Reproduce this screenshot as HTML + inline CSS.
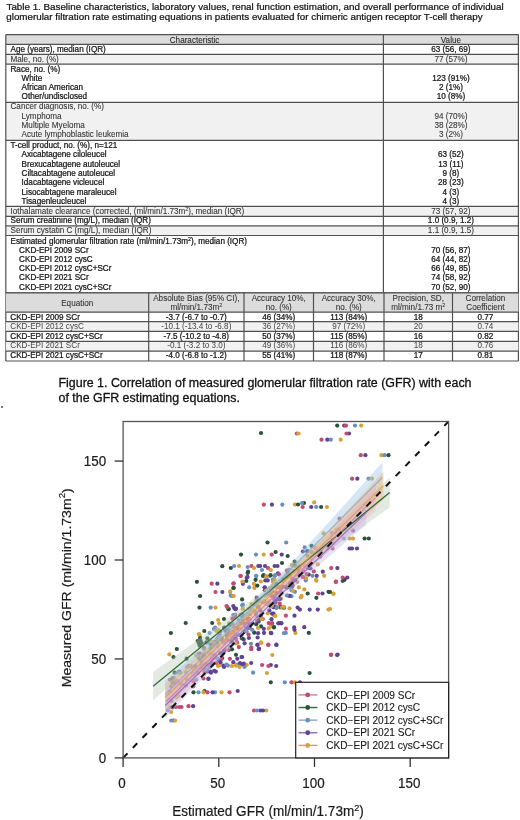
<!DOCTYPE html><html><head><meta charset="utf-8"><style>html,body{margin:0;padding:0;background:#fff;width:520px;height:820px;overflow:hidden}svg{display:block;will-change:transform}text{font-family:"Liberation Sans",sans-serif}.b{stroke:#141414;stroke-width:0.24px}.t{stroke:#111;stroke-width:0.22px}.c{stroke:#111;stroke-width:0.3px}.r{stroke:#333;stroke-width:0.08px}.pt{stroke:#1a1a1a;stroke-width:0.2px}.pl{stroke:#1a1a1a;stroke-width:0.12px}</style></head><body>
<svg width="520" height="820" viewBox="0 0 520 820">
<text x="6.5" y="9.8" font-size="9.8" fill="#111" class="t">Table 1. Baseline characteristics, laboratory values, renal function estimation, and overall performance of individual</text>
<text x="6.3" y="20.3" font-size="9.8" fill="#111" class="t">glomerular filtration rate estimating equations in patients evaluated for chimeric antigen receptor T-cell therapy</text>
<rect x="5.8" y="34.6" width="512.6" height="9.799999999999997" fill="#dcdcdc"/>
<text x="194.6" y="42.7" font-size="8.15" text-anchor="middle" fill="#222" class="r">Characteristic</text>
<text x="450.9" y="42.7" font-size="8.15" text-anchor="middle" fill="#222" class="r">Value</text>
<text x="10.5" y="52.3" font-size="8.15" fill="#141414" class="b">Age (years), median (IQR)</text>
<text x="450.9" y="52.3" font-size="8.15" text-anchor="middle" fill="#141414" class="b">63 (56, 69)</text>
<rect x="5.8" y="54.4" width="512.6" height="9.800000000000004" fill="#f1f1f1"/>
<text x="10.5" y="61.5" font-size="8.15" fill="#333333" class="r">Male, no. (%)</text>
<text x="450.9" y="61.5" font-size="8.15" text-anchor="middle" fill="#333333" class="r">77 (57%)</text>
<text x="10.5" y="71.7" font-size="8.15" fill="#141414" class="b">Race, no. (%)</text>
<text x="21.6" y="80.9" font-size="8.15" fill="#141414" class="b">White</text>
<text x="450.9" y="80.9" font-size="8.15" text-anchor="middle" fill="#141414" class="b">123 (91%)</text>
<text x="21.6" y="90.1" font-size="8.15" fill="#141414" class="b">African American</text>
<text x="450.9" y="90.1" font-size="8.15" text-anchor="middle" fill="#141414" class="b">2 (1%)</text>
<text x="21.6" y="99.3" font-size="8.15" fill="#141414" class="b">Other/undisclosed</text>
<text x="450.9" y="99.3" font-size="8.15" text-anchor="middle" fill="#141414" class="b">10 (8%)</text>
<rect x="5.8" y="102.3" width="512.6" height="38.000000000000014" fill="#f1f1f1"/>
<text x="10.5" y="109.4" font-size="8.15" fill="#333333" class="r">Cancer diagnosis, no. (%)</text>
<text x="21.6" y="118.65" font-size="8.15" fill="#333333" class="r">Lymphoma</text>
<text x="450.9" y="118.65" font-size="8.15" text-anchor="middle" fill="#333333" class="r">94 (70%)</text>
<text x="21.6" y="127.9" font-size="8.15" fill="#333333" class="r">Multiple Myeloma</text>
<text x="450.9" y="127.9" font-size="8.15" text-anchor="middle" fill="#333333" class="r">38 (28%)</text>
<text x="21.6" y="137.15" font-size="8.15" fill="#333333" class="r">Acute lymphoblastic leukemia</text>
<text x="450.9" y="137.15" font-size="8.15" text-anchor="middle" fill="#333333" class="r">3 (2%)</text>
<text x="10.5" y="148.0" font-size="8.15" fill="#141414" class="b">T-cell product, no. (%), n=121</text>
<text x="21.6" y="157.3" font-size="8.15" fill="#141414" class="b">Axicabtagene ciloleucel</text>
<text x="450.9" y="157.3" font-size="8.15" text-anchor="middle" fill="#141414" class="b">63 (52)</text>
<text x="21.6" y="166.6" font-size="8.15" fill="#141414" class="b">Brexucabtagene autoleucel</text>
<text x="450.9" y="166.6" font-size="8.15" text-anchor="middle" fill="#141414" class="b">13 (11)</text>
<text x="21.6" y="175.9" font-size="8.15" fill="#141414" class="b">Ciltacabtagene autoleucel</text>
<text x="450.9" y="175.9" font-size="8.15" text-anchor="middle" fill="#141414" class="b">9 (8)</text>
<text x="21.6" y="185.2" font-size="8.15" fill="#141414" class="b">Idacabtagene vicleucel</text>
<text x="450.9" y="185.2" font-size="8.15" text-anchor="middle" fill="#141414" class="b">28 (23)</text>
<text x="21.6" y="194.5" font-size="8.15" fill="#141414" class="b">Lisocabtagene maraleucel</text>
<text x="450.9" y="194.5" font-size="8.15" text-anchor="middle" fill="#141414" class="b">4 (3)</text>
<text x="21.6" y="203.8" font-size="8.15" fill="#141414" class="b">Tisagenleucleucel</text>
<text x="450.9" y="203.8" font-size="8.15" text-anchor="middle" fill="#141414" class="b">4 (3)</text>
<rect x="5.8" y="206.3" width="512.6" height="10.149999999999977" fill="#f1f1f1"/>
<text x="10.5" y="213.8" font-size="8.15" fill="#333333" class="r">Iothalamate clearance (corrected, (ml/min/1.73m<tspan font-size="5.5" dy="-3">2</tspan><tspan dy="3">), median (IQR)</tspan></text>
<text x="450.9" y="213.8" font-size="8.15" text-anchor="middle" fill="#333333" class="r">73 (57, 92)</text>
<text x="10.5" y="223.45" font-size="8.15" fill="#141414" class="b">Serum creatinine (mg/L), median (IQR)</text>
<text x="450.9" y="223.45" font-size="8.15" text-anchor="middle" fill="#141414" class="b">1.0 (0.9, 1.2)</text>
<rect x="5.8" y="225.8" width="512.6" height="9.699999999999989" fill="#f1f1f1"/>
<text x="10.5" y="232.8" font-size="8.15" fill="#333333" class="r">Serum cystatin C (mg/L), median (IQR)</text>
<text x="450.9" y="232.8" font-size="8.15" text-anchor="middle" fill="#333333" class="r">1.1 (0.9, 1.5)</text>
<text x="10.5" y="243.6" font-size="8.15" fill="#141414" class="b">Estimated glomerular filtration rate (ml/min/1.73m<tspan font-size="5.5" dy="-3">2</tspan><tspan dy="3">), median (IQR)</tspan></text>
<text x="19.1" y="252.8" font-size="8.15" fill="#141414" class="b">CKD-EPI 2009 SCr</text>
<text x="450.9" y="252.8" font-size="8.15" text-anchor="middle" fill="#141414" class="b">70 (56, 87)</text>
<text x="19.1" y="262.0" font-size="8.15" fill="#141414" class="b">CKD-EPI 2012 cysC</text>
<text x="450.9" y="262.0" font-size="8.15" text-anchor="middle" fill="#141414" class="b">64 (44, 82)</text>
<text x="19.1" y="271.2" font-size="8.15" fill="#141414" class="b">CKD-EPI 2012 cysC+SCr</text>
<text x="450.9" y="271.2" font-size="8.15" text-anchor="middle" fill="#141414" class="b">66 (49, 85)</text>
<text x="19.1" y="280.4" font-size="8.15" fill="#141414" class="b">CKD-EPI 2021 SCr</text>
<text x="450.9" y="280.4" font-size="8.15" text-anchor="middle" fill="#141414" class="b">74 (58, 92)</text>
<text x="19.1" y="289.6" font-size="8.15" fill="#141414" class="b">CKD-EPI 2021 cysC+SCr</text>
<text x="450.9" y="289.6" font-size="8.15" text-anchor="middle" fill="#141414" class="b">70 (52, 90)</text>
<line x1="5.8" y1="34.6" x2="518.4" y2="34.6" stroke="#505050" stroke-width="1.2"/>
<line x1="5.8" y1="44.4" x2="518.4" y2="44.4" stroke="#505050" stroke-width="1.2"/>
<line x1="5.8" y1="54.4" x2="518.4" y2="54.4" stroke="#505050" stroke-width="1.2"/>
<line x1="5.8" y1="64.2" x2="518.4" y2="64.2" stroke="#505050" stroke-width="1.2"/>
<line x1="5.8" y1="102.3" x2="518.4" y2="102.3" stroke="#505050" stroke-width="1.2"/>
<line x1="5.8" y1="140.3" x2="518.4" y2="140.3" stroke="#505050" stroke-width="1.2"/>
<line x1="5.8" y1="206.3" x2="518.4" y2="206.3" stroke="#505050" stroke-width="1.2"/>
<line x1="5.8" y1="216.45" x2="518.4" y2="216.45" stroke="#505050" stroke-width="1.2"/>
<line x1="5.8" y1="225.8" x2="518.4" y2="225.8" stroke="#505050" stroke-width="1.2"/>
<line x1="5.8" y1="235.5" x2="518.4" y2="235.5" stroke="#505050" stroke-width="1.2"/>
<line x1="5.8" y1="292.85" x2="518.4" y2="292.85" stroke="#505050" stroke-width="1.2"/>
<line x1="5.8" y1="34.6" x2="5.8" y2="361.0" stroke="#505050" stroke-width="1.2"/>
<line x1="518.4" y1="34.6" x2="518.4" y2="361.0" stroke="#505050" stroke-width="1.2"/>
<line x1="383.4" y1="34.6" x2="383.4" y2="292.85" stroke="#505050" stroke-width="1.2"/>
<rect x="5.8" y="292.85" width="512.6" height="19.25" fill="#dcdcdc"/>
<text x="77.25" y="305.5" font-size="8.15" text-anchor="middle" fill="#333" class="r">Equation</text>
<text x="196.35" y="300.9" font-size="8.15" text-anchor="middle" fill="#333" class="r">Absolute Bias (95% CI),</text>
<text x="196.35" y="309.8" font-size="8.15" text-anchor="middle" fill="#333" class="r">ml/min/1.73m<tspan font-size="5.5" dy="-3">2</tspan><tspan dy="3"></tspan></text>
<text x="278.75" y="300.9" font-size="8.15" text-anchor="middle" fill="#333" class="r">Accuracy 10%,</text>
<text x="278.75" y="309.8" font-size="8.15" text-anchor="middle" fill="#333" class="r">no. (%)</text>
<text x="348.75" y="300.9" font-size="8.15" text-anchor="middle" fill="#333" class="r">Accuracy 30%,</text>
<text x="348.75" y="309.8" font-size="8.15" text-anchor="middle" fill="#333" class="r">no. (%)</text>
<text x="418.25" y="300.9" font-size="8.15" text-anchor="middle" fill="#333" class="r">Precision, SD,</text>
<text x="418.25" y="309.8" font-size="8.15" text-anchor="middle" fill="#333" class="r">ml/min/1.73 m<tspan font-size="5.5" dy="-3">2</tspan><tspan dy="3"></tspan></text>
<text x="485.45" y="300.9" font-size="8.15" text-anchor="middle" fill="#333" class="r">Correlation</text>
<text x="485.45" y="309.8" font-size="8.15" text-anchor="middle" fill="#333" class="r">Coefficient</text>
<text x="10.3" y="319.7" font-size="8.15" fill="#141414" class="b">CKD-EPI 2009 SCr</text>
<text x="196.35" y="319.7" font-size="8.15" text-anchor="middle" fill="#141414" class="b">-3.7 (-6.7 to -0.7)</text>
<text x="278.75" y="319.7" font-size="8.15" text-anchor="middle" fill="#141414" class="b">46 (34%)</text>
<text x="348.75" y="319.7" font-size="8.15" text-anchor="middle" fill="#141414" class="b">113 (84%)</text>
<text x="418.25" y="319.7" font-size="8.15" text-anchor="middle" fill="#141414" class="b">18</text>
<text x="485.45" y="319.7" font-size="8.15" text-anchor="middle" fill="#141414" class="b">0.77</text>
<rect x="5.8" y="321.55" width="512.6" height="9.800000000000011" fill="#f1f1f1"/>
<text x="10.3" y="329.15" font-size="8.15" fill="#444444">CKD-EPI 2012 cysC</text>
<text x="196.35" y="329.15" font-size="8.15" text-anchor="middle" fill="#444444">-10.1 (-13.4 to -6.8)</text>
<text x="278.75" y="329.15" font-size="8.15" text-anchor="middle" fill="#444444">36 (27%)</text>
<text x="348.75" y="329.15" font-size="8.15" text-anchor="middle" fill="#444444">97 (72%)</text>
<text x="418.25" y="329.15" font-size="8.15" text-anchor="middle" fill="#444444">20</text>
<text x="485.45" y="329.15" font-size="8.15" text-anchor="middle" fill="#444444">0.74</text>
<text x="10.3" y="338.75" font-size="8.15" fill="#141414" class="b">CKD-EPI 2012 cysC+SCr</text>
<text x="196.35" y="338.75" font-size="8.15" text-anchor="middle" fill="#141414" class="b">-7.5 (-10.2 to -4.8)</text>
<text x="278.75" y="338.75" font-size="8.15" text-anchor="middle" fill="#141414" class="b">50 (37%)</text>
<text x="348.75" y="338.75" font-size="8.15" text-anchor="middle" fill="#141414" class="b">115 (85%)</text>
<text x="418.25" y="338.75" font-size="8.15" text-anchor="middle" fill="#141414" class="b">16</text>
<text x="485.45" y="338.75" font-size="8.15" text-anchor="middle" fill="#141414" class="b">0.82</text>
<rect x="5.8" y="341.35" width="512.6" height="9.849999999999966" fill="#f1f1f1"/>
<text x="10.3" y="348.35" font-size="8.15" fill="#444444">CKD-EPI 2021 SCr</text>
<text x="196.35" y="348.35" font-size="8.15" text-anchor="middle" fill="#444444">-0.1 (-3.2 to 3.0)</text>
<text x="278.75" y="348.35" font-size="8.15" text-anchor="middle" fill="#444444">49 (36%)</text>
<text x="348.75" y="348.35" font-size="8.15" text-anchor="middle" fill="#444444">116 (86%)</text>
<text x="418.25" y="348.35" font-size="8.15" text-anchor="middle" fill="#444444">18</text>
<text x="485.45" y="348.35" font-size="8.15" text-anchor="middle" fill="#444444">0.76</text>
<text x="10.3" y="358.0" font-size="8.15" fill="#141414" class="b">CKD-EPI 2021 cysC+SCr</text>
<text x="196.35" y="358.0" font-size="8.15" text-anchor="middle" fill="#141414" class="b">-4.0 (-6.8 to -1.2)</text>
<text x="278.75" y="358.0" font-size="8.15" text-anchor="middle" fill="#141414" class="b">55 (41%)</text>
<text x="348.75" y="358.0" font-size="8.15" text-anchor="middle" fill="#141414" class="b">118 (87%)</text>
<text x="418.25" y="358.0" font-size="8.15" text-anchor="middle" fill="#141414" class="b">17</text>
<text x="485.45" y="358.0" font-size="8.15" text-anchor="middle" fill="#141414" class="b">0.81</text>
<line x1="5.8" y1="292.85" x2="518.4" y2="292.85" stroke="#505050" stroke-width="1.2"/>
<line x1="5.8" y1="312.1" x2="518.4" y2="312.1" stroke="#505050" stroke-width="1.2"/>
<line x1="5.8" y1="321.55" x2="518.4" y2="321.55" stroke="#505050" stroke-width="1.2"/>
<line x1="5.8" y1="331.35" x2="518.4" y2="331.35" stroke="#505050" stroke-width="1.2"/>
<line x1="5.8" y1="341.35" x2="518.4" y2="341.35" stroke="#505050" stroke-width="1.2"/>
<line x1="5.8" y1="351.2" x2="518.4" y2="351.2" stroke="#505050" stroke-width="1.2"/>
<line x1="5.8" y1="361.0" x2="518.4" y2="361.0" stroke="#505050" stroke-width="1.2"/>
<line x1="148.7" y1="292.85" x2="148.7" y2="361.0" stroke="#505050" stroke-width="1.2"/>
<line x1="244.0" y1="292.85" x2="244.0" y2="361.0" stroke="#505050" stroke-width="1.2"/>
<line x1="313.5" y1="292.85" x2="313.5" y2="361.0" stroke="#505050" stroke-width="1.2"/>
<line x1="384.0" y1="292.85" x2="384.0" y2="361.0" stroke="#505050" stroke-width="1.2"/>
<line x1="452.5" y1="292.85" x2="452.5" y2="361.0" stroke="#505050" stroke-width="1.2"/>
<text x="58.5" y="387.3" font-size="12.42" fill="#111" class="c">Figure 1. Correlation of measured glomerular filtration rate (GFR) with each</text>
<text x="58.5" y="401.7" font-size="12.42" fill="#111" class="c">of the GFR estimating equations.</text>
<rect x="1" y="406" width="2" height="2" fill="#777"/>
<g>
<circle cx="203.7" cy="648.4" r="2.1" fill="#d8a038"/>
<circle cx="280.2" cy="607.7" r="2.1" fill="#d8a038"/>
<circle cx="279.8" cy="603.5" r="2.1" fill="#c44a70"/>
<circle cx="305.8" cy="579.8" r="2.1" fill="#6590c0"/>
<circle cx="298.3" cy="568.2" r="2.1" fill="#d8a038"/>
<circle cx="273.1" cy="581.6" r="2.1" fill="#d8a038"/>
<circle cx="193.3" cy="681.2" r="2.1" fill="#c44a70"/>
<circle cx="233.3" cy="615.0" r="2.1" fill="#6590c0"/>
<circle cx="227.9" cy="665.6" r="2.1" fill="#6590c0"/>
<circle cx="336.9" cy="529.8" r="2.1" fill="#6590c0"/>
<circle cx="264.8" cy="590.2" r="2.1" fill="#5e4394"/>
<circle cx="343.8" cy="538.5" r="2.1" fill="#6590c0"/>
<circle cx="228.7" cy="609.0" r="2.1" fill="#2a5238"/>
<circle cx="281.7" cy="554.6" r="2.1" fill="#5e4394"/>
<circle cx="209.3" cy="663.9" r="2.1" fill="#d8a038"/>
<circle cx="234.0" cy="627.2" r="2.1" fill="#c44a70"/>
<circle cx="188.5" cy="706.2" r="2.1" fill="#c44a70"/>
<circle cx="268.0" cy="568.0" r="2.1" fill="#c44a70"/>
<circle cx="307.7" cy="593.5" r="2.1" fill="#2a5238"/>
<circle cx="172.7" cy="678.2" r="2.1" fill="#c44a70"/>
<circle cx="243.7" cy="639.4" r="2.1" fill="#5e4394"/>
<circle cx="272.9" cy="579.5" r="2.1" fill="#6590c0"/>
<circle cx="275.5" cy="586.1" r="2.1" fill="#5e4394"/>
<circle cx="230.7" cy="636.3" r="2.1" fill="#d8a038"/>
<circle cx="231.8" cy="596.0" r="2.1" fill="#6590c0"/>
<circle cx="240.8" cy="628.6" r="2.1" fill="#d8a038"/>
<circle cx="316.1" cy="579.8" r="2.1" fill="#d8a038"/>
<circle cx="260.6" cy="615.6" r="2.1" fill="#c44a70"/>
<circle cx="256.0" cy="601.0" r="2.1" fill="#d8a038"/>
<circle cx="270.8" cy="682.3" r="2.1" fill="#2a5238"/>
<circle cx="238.1" cy="634.4" r="2.1" fill="#6590c0"/>
<circle cx="234.8" cy="617.7" r="2.1" fill="#c44a70"/>
<circle cx="251.5" cy="566.0" r="2.1" fill="#c44a70"/>
<circle cx="269.8" cy="605.5" r="2.1" fill="#6590c0"/>
<circle cx="274.1" cy="596.4" r="2.1" fill="#2a5238"/>
<circle cx="211.0" cy="644.5" r="2.1" fill="#6590c0"/>
<circle cx="242.7" cy="609.1" r="2.1" fill="#d8a038"/>
<circle cx="218.9" cy="660.2" r="2.1" fill="#5e4394"/>
<circle cx="208.9" cy="665.3" r="2.1" fill="#c44a70"/>
<circle cx="291.5" cy="596.2" r="2.1" fill="#6590c0"/>
<circle cx="242.0" cy="664.5" r="2.1" fill="#5e4394"/>
<circle cx="251.2" cy="663.0" r="2.1" fill="#5e4394"/>
<circle cx="315.3" cy="547.9" r="2.1" fill="#c44a70"/>
<circle cx="246.7" cy="665.0" r="2.1" fill="#d8a038"/>
<circle cx="242.4" cy="614.6" r="2.1" fill="#d8a038"/>
<circle cx="199.7" cy="635.6" r="2.1" fill="#d8a038"/>
<circle cx="297.9" cy="574.2" r="2.1" fill="#5e4394"/>
<circle cx="237.2" cy="642.9" r="2.1" fill="#d8a038"/>
<circle cx="181.5" cy="707.0" r="2.1" fill="#c44a70"/>
<circle cx="230.2" cy="591.3" r="2.1" fill="#d8a038"/>
<circle cx="233.7" cy="596.0" r="2.1" fill="#d8a038"/>
<circle cx="228.5" cy="609.2" r="2.1" fill="#2a5238"/>
<circle cx="253.1" cy="672.7" r="2.1" fill="#6590c0"/>
<circle cx="228.8" cy="650.1" r="2.1" fill="#c44a70"/>
<circle cx="233.7" cy="583.3" r="2.1" fill="#c44a70"/>
<circle cx="217.4" cy="583.7" r="2.1" fill="#5e4394"/>
<circle cx="281.2" cy="623.1" r="2.1" fill="#5e4394"/>
<circle cx="267.7" cy="580.4" r="2.1" fill="#5e4394"/>
<circle cx="197.7" cy="641.0" r="2.1" fill="#2a5238"/>
<circle cx="248.9" cy="638.0" r="2.1" fill="#5e4394"/>
<circle cx="300.7" cy="597.5" r="2.1" fill="#d8a038"/>
<circle cx="326.9" cy="507.0" r="2.1" fill="#d8a038"/>
<circle cx="269.1" cy="601.4" r="2.1" fill="#d8a038"/>
<circle cx="304.0" cy="503.0" r="2.1" fill="#2a5238"/>
<circle cx="209.6" cy="633.0" r="2.1" fill="#6590c0"/>
<circle cx="205.1" cy="651.3" r="2.1" fill="#d8a038"/>
<circle cx="241.9" cy="638.3" r="2.1" fill="#2a5238"/>
<circle cx="289.9" cy="575.9" r="2.1" fill="#c44a70"/>
<circle cx="261.2" cy="643.0" r="2.1" fill="#d8a038"/>
<circle cx="241.5" cy="657.0" r="2.1" fill="#5e4394"/>
<circle cx="252.3" cy="609.3" r="2.1" fill="#2a5238"/>
<circle cx="233.1" cy="631.3" r="2.1" fill="#5e4394"/>
<circle cx="178.4" cy="695.3" r="2.1" fill="#d8a038"/>
<circle cx="193.3" cy="674.8" r="2.1" fill="#6590c0"/>
<circle cx="280.4" cy="606.9" r="2.1" fill="#5e4394"/>
<circle cx="261.0" cy="626.4" r="2.1" fill="#2a5238"/>
<circle cx="220.1" cy="631.5" r="2.1" fill="#2a5238"/>
<circle cx="242.1" cy="614.3" r="2.1" fill="#2a5238"/>
<circle cx="262.5" cy="602.3" r="2.1" fill="#c44a70"/>
<circle cx="266.9" cy="673.0" r="2.1" fill="#d8a038"/>
<circle cx="333.3" cy="593.5" r="2.1" fill="#d8a038"/>
<circle cx="203.3" cy="654.4" r="2.1" fill="#c44a70"/>
<circle cx="339.0" cy="529.3" r="2.1" fill="#2a5238"/>
<circle cx="287.2" cy="587.5" r="2.1" fill="#2a5238"/>
<circle cx="258.4" cy="600.8" r="2.1" fill="#2a5238"/>
<circle cx="276.3" cy="593.8" r="2.1" fill="#c44a70"/>
<circle cx="212.2" cy="664.3" r="2.1" fill="#5e4394"/>
<circle cx="297.3" cy="582.1" r="2.1" fill="#d8a038"/>
<circle cx="274.6" cy="579.8" r="2.1" fill="#d8a038"/>
<circle cx="274.0" cy="627.1" r="2.1" fill="#2a5238"/>
<circle cx="316.7" cy="575.8" r="2.1" fill="#5e4394"/>
<circle cx="202.4" cy="656.7" r="2.1" fill="#5e4394"/>
<circle cx="342.7" cy="581.0" r="2.1" fill="#5e4394"/>
<circle cx="289.1" cy="569.9" r="2.1" fill="#6590c0"/>
<circle cx="215.2" cy="627.5" r="2.1" fill="#6590c0"/>
<circle cx="230.1" cy="592.0" r="2.1" fill="#d8a038"/>
<circle cx="236.0" cy="608.7" r="2.1" fill="#5e4394"/>
<circle cx="259.5" cy="616.4" r="2.1" fill="#d8a038"/>
<circle cx="244.9" cy="631.3" r="2.1" fill="#2a5238"/>
<circle cx="277.1" cy="606.4" r="2.1" fill="#d8a038"/>
<circle cx="281.4" cy="623.3" r="2.1" fill="#5e4394"/>
<circle cx="294.2" cy="627.4" r="2.1" fill="#5e4394"/>
<circle cx="240.6" cy="575.8" r="2.1" fill="#c44a70"/>
<circle cx="254.6" cy="604.4" r="2.1" fill="#c44a70"/>
<circle cx="218.0" cy="666.0" r="2.1" fill="#d8a038"/>
<circle cx="211.9" cy="654.8" r="2.1" fill="#5e4394"/>
<circle cx="250.4" cy="624.9" r="2.1" fill="#6590c0"/>
<circle cx="249.7" cy="614.2" r="2.1" fill="#2a5238"/>
<circle cx="297.6" cy="607.6" r="2.1" fill="#5e4394"/>
<circle cx="173.5" cy="657.1" r="2.1" fill="#2a5238"/>
<circle cx="292.8" cy="585.3" r="2.1" fill="#c44a70"/>
<circle cx="173.5" cy="720.5" r="2.1" fill="#5e4394"/>
<circle cx="268.7" cy="628.4" r="2.1" fill="#d8a038"/>
<circle cx="214.7" cy="642.8" r="2.1" fill="#5e4394"/>
<circle cx="344.3" cy="579.5" r="2.1" fill="#2a5238"/>
<circle cx="282.0" cy="586.4" r="2.1" fill="#6590c0"/>
<circle cx="188.8" cy="666.2" r="2.1" fill="#2a5238"/>
<circle cx="237.0" cy="664.5" r="2.1" fill="#6590c0"/>
<circle cx="260.2" cy="566.0" r="2.1" fill="#5e4394"/>
<circle cx="217.2" cy="638.6" r="2.1" fill="#6590c0"/>
<circle cx="240.9" cy="615.3" r="2.1" fill="#c44a70"/>
<circle cx="204.5" cy="673.6" r="2.1" fill="#d8a038"/>
<circle cx="204.0" cy="667.4" r="2.1" fill="#2a5238"/>
<circle cx="269.8" cy="576.0" r="2.1" fill="#6590c0"/>
<circle cx="245.5" cy="617.4" r="2.1" fill="#d8a038"/>
<circle cx="328.5" cy="591.8" r="2.1" fill="#2a5238"/>
<circle cx="263.7" cy="554.6" r="2.1" fill="#d8a038"/>
<circle cx="262.1" cy="665.0" r="2.1" fill="#c44a70"/>
<circle cx="231.0" cy="633.4" r="2.1" fill="#5e4394"/>
<circle cx="193.1" cy="706.2" r="2.1" fill="#5e4394"/>
<circle cx="211.6" cy="657.1" r="2.1" fill="#6590c0"/>
<circle cx="227.3" cy="639.8" r="2.1" fill="#2a5238"/>
<circle cx="217.2" cy="658.4" r="2.1" fill="#6590c0"/>
<circle cx="269.4" cy="593.5" r="2.1" fill="#5e4394"/>
<circle cx="215.0" cy="643.6" r="2.1" fill="#d8a038"/>
<circle cx="265.0" cy="566.0" r="2.1" fill="#5e4394"/>
<circle cx="314.2" cy="502.4" r="2.1" fill="#d8a038"/>
<circle cx="234.2" cy="566.0" r="2.1" fill="#6590c0"/>
<circle cx="263.8" cy="628.8" r="2.1" fill="#5e4394"/>
<circle cx="224.4" cy="628.0" r="2.1" fill="#2a5238"/>
<circle cx="277.9" cy="573.3" r="2.1" fill="#5e4394"/>
<circle cx="276.5" cy="645.0" r="2.1" fill="#5e4394"/>
<circle cx="279.0" cy="574.3" r="2.1" fill="#c44a70"/>
<circle cx="215.5" cy="592.0" r="2.1" fill="#c44a70"/>
<circle cx="256.1" cy="575.8" r="2.1" fill="#6590c0"/>
<circle cx="229.6" cy="633.5" r="2.1" fill="#2a5238"/>
<circle cx="230.0" cy="647.0" r="2.1" fill="#6590c0"/>
<circle cx="294.6" cy="561.7" r="2.1" fill="#2a5238"/>
<circle cx="240.5" cy="623.7" r="2.1" fill="#2a5238"/>
<circle cx="287.7" cy="556.0" r="2.1" fill="#2a5238"/>
<circle cx="331.0" cy="655.0" r="2.1" fill="#c44a70"/>
<circle cx="308.8" cy="632.9" r="2.1" fill="#2a5238"/>
<circle cx="247.5" cy="627.9" r="2.1" fill="#c44a70"/>
<circle cx="260.3" cy="610.3" r="2.1" fill="#2a5238"/>
<circle cx="233.3" cy="588.0" r="2.1" fill="#2a5238"/>
<circle cx="230.8" cy="595.4" r="2.1" fill="#6590c0"/>
<circle cx="270.8" cy="632.9" r="2.1" fill="#5e4394"/>
<circle cx="283.5" cy="579.4" r="2.1" fill="#2a5238"/>
<circle cx="275.1" cy="596.7" r="2.1" fill="#6590c0"/>
<circle cx="175.1" cy="720.5" r="2.1" fill="#d8a038"/>
<circle cx="219.2" cy="623.5" r="2.1" fill="#d8a038"/>
<circle cx="307.2" cy="551.2" r="2.1" fill="#2a5238"/>
<circle cx="233.3" cy="662.2" r="2.1" fill="#5e4394"/>
<circle cx="193.5" cy="692.3" r="2.1" fill="#2a5238"/>
<circle cx="241.0" cy="554.6" r="2.1" fill="#2a5238"/>
<circle cx="229.2" cy="623.3" r="2.1" fill="#d8a038"/>
<circle cx="308.7" cy="574.6" r="2.1" fill="#2a5238"/>
<circle cx="252.2" cy="610.0" r="2.1" fill="#d8a038"/>
<circle cx="381.5" cy="455.2" r="2.1" fill="#d8a038"/>
<circle cx="223.2" cy="652.5" r="2.1" fill="#5e4394"/>
<circle cx="251.6" cy="610.1" r="2.1" fill="#5e4394"/>
<circle cx="281.0" cy="598.6" r="2.1" fill="#d8a038"/>
<circle cx="227.3" cy="606.9" r="2.1" fill="#c44a70"/>
<circle cx="349.0" cy="433.5" r="2.1" fill="#5e4394"/>
<circle cx="259.0" cy="648.6" r="2.1" fill="#5e4394"/>
<circle cx="199.6" cy="653.5" r="2.1" fill="#2a5238"/>
<circle cx="232.9" cy="637.7" r="2.1" fill="#c44a70"/>
<circle cx="270.8" cy="665.0" r="2.1" fill="#5e4394"/>
<circle cx="236.0" cy="665.6" r="2.1" fill="#d8a038"/>
<circle cx="257.1" cy="621.2" r="2.1" fill="#c44a70"/>
<circle cx="259.0" cy="619.8" r="2.1" fill="#2a5238"/>
<circle cx="233.2" cy="636.1" r="2.1" fill="#6590c0"/>
<circle cx="247.7" cy="567.0" r="2.1" fill="#6590c0"/>
<circle cx="212.2" cy="623.0" r="2.1" fill="#2a5238"/>
<circle cx="295.4" cy="632.9" r="2.1" fill="#d8a038"/>
<circle cx="204.5" cy="691.0" r="2.1" fill="#2a5238"/>
<circle cx="274.6" cy="576.0" r="2.1" fill="#6590c0"/>
<circle cx="317.9" cy="564.3" r="2.1" fill="#d8a038"/>
<circle cx="265.6" cy="595.7" r="2.1" fill="#c44a70"/>
<circle cx="213.9" cy="629.0" r="2.1" fill="#6590c0"/>
<circle cx="271.0" cy="626.0" r="2.1" fill="#d8a038"/>
<circle cx="238.9" cy="620.1" r="2.1" fill="#6590c0"/>
<circle cx="250.1" cy="628.0" r="2.1" fill="#c44a70"/>
<circle cx="223.2" cy="665.6" r="2.1" fill="#5e4394"/>
<circle cx="263.6" cy="575.2" r="2.1" fill="#2a5238"/>
<circle cx="272.3" cy="655.0" r="2.1" fill="#d8a038"/>
<circle cx="255.6" cy="604.6" r="2.1" fill="#6590c0"/>
<circle cx="292.4" cy="578.9" r="2.1" fill="#2a5238"/>
<circle cx="185.7" cy="623.0" r="2.1" fill="#2a5238"/>
<circle cx="312.5" cy="575.8" r="2.1" fill="#6590c0"/>
<circle cx="285.9" cy="628.7" r="2.1" fill="#c44a70"/>
<circle cx="244.9" cy="626.3" r="2.1" fill="#c44a70"/>
<circle cx="181.1" cy="683.8" r="2.1" fill="#5e4394"/>
<circle cx="224.5" cy="641.1" r="2.1" fill="#c44a70"/>
<circle cx="271.5" cy="619.2" r="2.1" fill="#5e4394"/>
<circle cx="264.6" cy="587.5" r="2.1" fill="#5e4394"/>
<circle cx="193.0" cy="672.7" r="2.1" fill="#6590c0"/>
<circle cx="299.9" cy="609.6" r="2.1" fill="#5e4394"/>
<circle cx="247.9" cy="625.9" r="2.1" fill="#d8a038"/>
<circle cx="242.9" cy="583.8" r="2.1" fill="#5e4394"/>
<circle cx="214.8" cy="644.0" r="2.1" fill="#2a5238"/>
<circle cx="212.8" cy="646.5" r="2.1" fill="#c44a70"/>
<circle cx="344.4" cy="579.8" r="2.1" fill="#2a5238"/>
<circle cx="276.7" cy="593.0" r="2.1" fill="#2a5238"/>
<circle cx="236.0" cy="654.8" r="2.1" fill="#2a5238"/>
<circle cx="246.3" cy="581.0" r="2.1" fill="#2a5238"/>
<circle cx="266.3" cy="710.5" r="2.1" fill="#d8a038"/>
<circle cx="257.6" cy="637.5" r="2.1" fill="#5e4394"/>
<circle cx="305.7" cy="566.9" r="2.1" fill="#5e4394"/>
<circle cx="176.5" cy="697.3" r="2.1" fill="#d8a038"/>
<circle cx="215.0" cy="692.3" r="2.1" fill="#6590c0"/>
<circle cx="357.3" cy="478.7" r="2.1" fill="#5e4394"/>
<circle cx="266.7" cy="603.7" r="2.1" fill="#2a5238"/>
<circle cx="206.4" cy="642.3" r="2.1" fill="#2a5238"/>
<circle cx="226.5" cy="606.0" r="2.1" fill="#c44a70"/>
<circle cx="275.4" cy="602.3" r="2.1" fill="#5e4394"/>
<circle cx="229.6" cy="625.2" r="2.1" fill="#2a5238"/>
<circle cx="335.8" cy="581.9" r="2.1" fill="#c44a70"/>
<circle cx="265.7" cy="595.0" r="2.1" fill="#d8a038"/>
<circle cx="287.7" cy="572.9" r="2.1" fill="#2a5238"/>
<circle cx="364.6" cy="538.5" r="2.1" fill="#2a5238"/>
<circle cx="321.5" cy="439.7" r="2.1" fill="#c44a70"/>
<circle cx="221.5" cy="692.3" r="2.1" fill="#d8a038"/>
<circle cx="331.2" cy="654.6" r="2.1" fill="#c44a70"/>
<circle cx="174.0" cy="683.3" r="2.1" fill="#d8a038"/>
<circle cx="271.7" cy="554.6" r="2.1" fill="#c44a70"/>
<circle cx="294.9" cy="591.8" r="2.1" fill="#6590c0"/>
<circle cx="245.4" cy="618.5" r="2.1" fill="#d8a038"/>
<circle cx="211.6" cy="660.1" r="2.1" fill="#c44a70"/>
<circle cx="204.6" cy="671.5" r="2.1" fill="#c44a70"/>
<circle cx="204.3" cy="655.5" r="2.1" fill="#5e4394"/>
<circle cx="300.0" cy="682.3" r="2.1" fill="#5e4394"/>
<circle cx="238.8" cy="647.1" r="2.1" fill="#c44a70"/>
<circle cx="309.6" cy="673.0" r="2.1" fill="#2a5238"/>
<circle cx="238.5" cy="625.0" r="2.1" fill="#6590c0"/>
<circle cx="230.4" cy="633.2" r="2.1" fill="#c44a70"/>
<circle cx="280.1" cy="598.8" r="2.1" fill="#5e4394"/>
<circle cx="255.9" cy="613.6" r="2.1" fill="#2a5238"/>
<circle cx="275.6" cy="552.0" r="2.1" fill="#2a5238"/>
<circle cx="286.8" cy="570.5" r="2.1" fill="#c44a70"/>
<circle cx="321.1" cy="551.4" r="2.1" fill="#2a5238"/>
<circle cx="248.1" cy="571.7" r="2.1" fill="#2a5238"/>
<circle cx="384.5" cy="455.2" r="2.1" fill="#6590c0"/>
<circle cx="215.8" cy="671.6" r="2.1" fill="#5e4394"/>
<circle cx="224.0" cy="667.0" r="2.1" fill="#5e4394"/>
<circle cx="215.3" cy="642.2" r="2.1" fill="#c44a70"/>
<circle cx="298.0" cy="570.2" r="2.1" fill="#5e4394"/>
<circle cx="258.3" cy="566.0" r="2.1" fill="#5e4394"/>
<circle cx="293.6" cy="571.2" r="2.1" fill="#5e4394"/>
<circle cx="200.1" cy="596.0" r="2.1" fill="#2a5238"/>
<circle cx="332.5" cy="548.4" r="2.1" fill="#c44a70"/>
<circle cx="254.0" cy="710.5" r="2.1" fill="#c44a70"/>
<circle cx="247.1" cy="623.6" r="2.1" fill="#5e4394"/>
<circle cx="294.5" cy="615.7" r="2.1" fill="#5e4394"/>
<circle cx="291.3" cy="590.1" r="2.1" fill="#6590c0"/>
<circle cx="169.4" cy="654.4" r="2.1" fill="#d8a038"/>
<circle cx="313.8" cy="571.4" r="2.1" fill="#c44a70"/>
<circle cx="291.9" cy="565.2" r="2.1" fill="#d8a038"/>
<circle cx="180.4" cy="672.7" r="2.1" fill="#5e4394"/>
<circle cx="210.5" cy="648.2" r="2.1" fill="#2a5238"/>
<circle cx="186.6" cy="658.7" r="2.1" fill="#2a5238"/>
<circle cx="214.2" cy="670.8" r="2.1" fill="#5e4394"/>
<circle cx="353.0" cy="538.5" r="2.1" fill="#d8a038"/>
<circle cx="272.0" cy="623.3" r="2.1" fill="#c44a70"/>
<circle cx="256.3" cy="576.0" r="2.1" fill="#6590c0"/>
<circle cx="235.3" cy="614.9" r="2.1" fill="#c44a70"/>
<circle cx="244.5" cy="667.0" r="2.1" fill="#6590c0"/>
<circle cx="196.9" cy="581.8" r="2.1" fill="#2a5238"/>
<circle cx="232.0" cy="666.0" r="2.1" fill="#d8a038"/>
<circle cx="273.9" cy="627.4" r="2.1" fill="#2a5238"/>
<circle cx="171.1" cy="686.6" r="2.1" fill="#5e4394"/>
<circle cx="266.8" cy="603.7" r="2.1" fill="#d8a038"/>
<circle cx="195.8" cy="669.8" r="2.1" fill="#6590c0"/>
<circle cx="218.6" cy="637.1" r="2.1" fill="#c44a70"/>
<circle cx="201.7" cy="643.0" r="2.1" fill="#2a5238"/>
<circle cx="251.3" cy="647.6" r="2.1" fill="#c44a70"/>
<circle cx="268.5" cy="666.0" r="2.1" fill="#c44a70"/>
<circle cx="282.1" cy="607.6" r="2.1" fill="#d8a038"/>
<circle cx="228.8" cy="631.0" r="2.1" fill="#d8a038"/>
<circle cx="230.8" cy="568.0" r="2.1" fill="#2a5238"/>
<circle cx="175.2" cy="682.8" r="2.1" fill="#2a5238"/>
<circle cx="242.8" cy="620.6" r="2.1" fill="#5e4394"/>
<circle cx="295.0" cy="504.5" r="2.1" fill="#d8a038"/>
<circle cx="349.6" cy="538.5" r="2.1" fill="#d8a038"/>
<circle cx="232.3" cy="642.0" r="2.1" fill="#c44a70"/>
<circle cx="244.1" cy="623.5" r="2.1" fill="#5e4394"/>
<circle cx="220.0" cy="653.2" r="2.1" fill="#2a5238"/>
<circle cx="286.7" cy="577.1" r="2.1" fill="#2a5238"/>
<circle cx="207.4" cy="638.3" r="2.1" fill="#2a5238"/>
<circle cx="271.7" cy="596.0" r="2.1" fill="#5e4394"/>
<circle cx="229.9" cy="658.8" r="2.1" fill="#c44a70"/>
<circle cx="273.9" cy="606.0" r="2.1" fill="#5e4394"/>
<circle cx="273.8" cy="598.1" r="2.1" fill="#5e4394"/>
<circle cx="279.6" cy="592.4" r="2.1" fill="#6590c0"/>
<circle cx="352.0" cy="548.5" r="2.1" fill="#5e4394"/>
<circle cx="309.4" cy="564.4" r="2.1" fill="#c44a70"/>
<circle cx="170.0" cy="707.0" r="2.1" fill="#d8a038"/>
<circle cx="250.9" cy="643.8" r="2.1" fill="#6590c0"/>
<circle cx="209.5" cy="667.3" r="2.1" fill="#6590c0"/>
<circle cx="246.7" cy="578.0" r="2.1" fill="#5e4394"/>
<circle cx="272.5" cy="591.3" r="2.1" fill="#5e4394"/>
<circle cx="275.2" cy="575.2" r="2.1" fill="#6590c0"/>
<circle cx="292.3" cy="583.0" r="2.1" fill="#c44a70"/>
<circle cx="317.8" cy="609.6" r="2.1" fill="#5e4394"/>
<circle cx="279.2" cy="623.1" r="2.1" fill="#5e4394"/>
<circle cx="242.3" cy="581.5" r="2.1" fill="#d8a038"/>
<circle cx="208.5" cy="678.5" r="2.1" fill="#5e4394"/>
<circle cx="336.0" cy="581.6" r="2.1" fill="#c44a70"/>
<circle cx="277.5" cy="566.0" r="2.1" fill="#5e4394"/>
<circle cx="285.9" cy="615.7" r="2.1" fill="#c44a70"/>
<circle cx="304.3" cy="564.9" r="2.1" fill="#d8a038"/>
<circle cx="242.2" cy="605.3" r="2.1" fill="#6590c0"/>
<circle cx="198.3" cy="654.1" r="2.1" fill="#c44a70"/>
<circle cx="305.7" cy="580.4" r="2.1" fill="#6590c0"/>
<circle cx="178.9" cy="671.6" r="2.1" fill="#2a5238"/>
<circle cx="262.0" cy="570.0" r="2.1" fill="#6590c0"/>
<circle cx="255.5" cy="611.4" r="2.1" fill="#6590c0"/>
<circle cx="278.3" cy="623.3" r="2.1" fill="#5e4394"/>
<circle cx="178.0" cy="672.7" r="2.1" fill="#6590c0"/>
<circle cx="217.4" cy="645.9" r="2.1" fill="#6590c0"/>
<circle cx="221.7" cy="640.1" r="2.1" fill="#2a5238"/>
<circle cx="287.8" cy="595.5" r="2.1" fill="#c44a70"/>
<circle cx="240.6" cy="576.0" r="2.1" fill="#c44a70"/>
<circle cx="248.8" cy="619.6" r="2.1" fill="#6590c0"/>
<circle cx="171.2" cy="720.5" r="2.1" fill="#6590c0"/>
<circle cx="294.5" cy="629.8" r="2.1" fill="#5e4394"/>
<circle cx="320.3" cy="556.7" r="2.1" fill="#c44a70"/>
<circle cx="274.6" cy="566.0" r="2.1" fill="#5e4394"/>
<circle cx="214.7" cy="655.2" r="2.1" fill="#2a5238"/>
<circle cx="280.6" cy="588.8" r="2.1" fill="#c44a70"/>
<circle cx="260.7" cy="615.0" r="2.1" fill="#d8a038"/>
<circle cx="306.1" cy="578.1" r="2.1" fill="#d8a038"/>
<circle cx="169.9" cy="679.8" r="2.1" fill="#c44a70"/>
<circle cx="199.0" cy="643.6" r="2.1" fill="#2a5238"/>
<circle cx="257.8" cy="606.8" r="2.1" fill="#2a5238"/>
<circle cx="248.5" cy="634.6" r="2.1" fill="#c44a70"/>
<circle cx="276.2" cy="666.0" r="2.1" fill="#5e4394"/>
<circle cx="208.0" cy="671.5" r="2.1" fill="#5e4394"/>
<circle cx="208.8" cy="653.2" r="2.1" fill="#d8a038"/>
<circle cx="208.4" cy="679.0" r="2.1" fill="#5e4394"/>
<circle cx="291.4" cy="587.9" r="2.1" fill="#6590c0"/>
<circle cx="311.9" cy="559.5" r="2.1" fill="#d8a038"/>
<circle cx="270.7" cy="604.4" r="2.1" fill="#6590c0"/>
<circle cx="219.5" cy="638.4" r="2.1" fill="#c44a70"/>
<circle cx="233.7" cy="587.9" r="2.1" fill="#2a5238"/>
<circle cx="223.8" cy="642.6" r="2.1" fill="#5e4394"/>
<circle cx="258.8" cy="649.2" r="2.1" fill="#5e4394"/>
<circle cx="344.2" cy="425.6" r="2.1" fill="#5e4394"/>
<circle cx="332.7" cy="539.5" r="2.1" fill="#c44a70"/>
<circle cx="257.6" cy="644.7" r="2.1" fill="#5e4394"/>
<circle cx="316.4" cy="597.8" r="2.1" fill="#2a5238"/>
<circle cx="174.2" cy="678.2" r="2.1" fill="#c44a70"/>
<circle cx="254.0" cy="568.0" r="2.1" fill="#d8a038"/>
<circle cx="236.0" cy="638.9" r="2.1" fill="#c44a70"/>
<circle cx="219.6" cy="634.8" r="2.1" fill="#c44a70"/>
<circle cx="193.2" cy="668.7" r="2.1" fill="#d8a038"/>
<circle cx="262.8" cy="619.1" r="2.1" fill="#c44a70"/>
<circle cx="270.1" cy="593.1" r="2.1" fill="#2a5238"/>
<circle cx="263.8" cy="504.7" r="2.1" fill="#c44a70"/>
<circle cx="276.3" cy="607.7" r="2.1" fill="#5e4394"/>
<circle cx="347.3" cy="577.5" r="2.1" fill="#5e4394"/>
<circle cx="229.0" cy="632.8" r="2.1" fill="#c44a70"/>
<circle cx="200.1" cy="638.0" r="2.1" fill="#2a5238"/>
<circle cx="304.3" cy="589.4" r="2.1" fill="#d8a038"/>
<circle cx="175.8" cy="707.0" r="2.1" fill="#c44a70"/>
<circle cx="212.5" cy="692.3" r="2.1" fill="#5e4394"/>
<circle cx="270.2" cy="588.2" r="2.1" fill="#c44a70"/>
<circle cx="260.5" cy="710.5" r="2.1" fill="#5e4394"/>
<circle cx="236.3" cy="630.0" r="2.1" fill="#d8a038"/>
<circle cx="268.2" cy="644.7" r="2.1" fill="#c44a70"/>
<circle cx="266.0" cy="576.0" r="2.1" fill="#d8a038"/>
<circle cx="241.4" cy="635.3" r="2.1" fill="#6590c0"/>
<circle cx="260.9" cy="615.5" r="2.1" fill="#5e4394"/>
<circle cx="281.3" cy="587.0" r="2.1" fill="#5e4394"/>
<circle cx="292.7" cy="590.8" r="2.1" fill="#d8a038"/>
<circle cx="215.5" cy="607.6" r="2.1" fill="#d8a038"/>
<circle cx="173.7" cy="680.6" r="2.1" fill="#6590c0"/>
<circle cx="268.7" cy="623.1" r="2.1" fill="#c44a70"/>
<circle cx="172.3" cy="679.6" r="2.1" fill="#2a5238"/>
<circle cx="190.7" cy="665.6" r="2.1" fill="#c44a70"/>
<circle cx="258.6" cy="621.6" r="2.1" fill="#5e4394"/>
<circle cx="202.2" cy="664.1" r="2.1" fill="#5e4394"/>
<circle cx="344.2" cy="529.6" r="2.1" fill="#d8a038"/>
<circle cx="302.4" cy="576.8" r="2.1" fill="#c44a70"/>
<circle cx="235.4" cy="609.2" r="2.1" fill="#5e4394"/>
<circle cx="261.0" cy="433.0" r="2.1" fill="#2a5238"/>
<circle cx="195.3" cy="666.2" r="2.1" fill="#2a5238"/>
<circle cx="258.6" cy="606.6" r="2.1" fill="#5e4394"/>
<circle cx="199.7" cy="645.7" r="2.1" fill="#2a5238"/>
<circle cx="174.6" cy="672.7" r="2.1" fill="#2a5238"/>
<circle cx="346.5" cy="433.5" r="2.1" fill="#c44a70"/>
<circle cx="228.0" cy="632.6" r="2.1" fill="#2a5238"/>
<circle cx="274.6" cy="600.8" r="2.1" fill="#5e4394"/>
<circle cx="222.2" cy="658.1" r="2.1" fill="#5e4394"/>
<circle cx="219.8" cy="664.9" r="2.1" fill="#d8a038"/>
<circle cx="247.8" cy="620.5" r="2.1" fill="#c44a70"/>
<circle cx="258.1" cy="627.9" r="2.1" fill="#d8a038"/>
<circle cx="263.0" cy="576.0" r="2.1" fill="#2a5238"/>
<circle cx="324.2" cy="575.8" r="2.1" fill="#d8a038"/>
<circle cx="247.7" cy="573.0" r="2.1" fill="#2a5238"/>
<circle cx="199.0" cy="634.0" r="2.1" fill="#d8a038"/>
<circle cx="196.3" cy="679.8" r="2.1" fill="#6590c0"/>
<circle cx="273.5" cy="607.2" r="2.1" fill="#5e4394"/>
<circle cx="301.6" cy="595.9" r="2.1" fill="#d8a038"/>
<circle cx="260.8" cy="581.5" r="2.1" fill="#d8a038"/>
<circle cx="271.3" cy="633.2" r="2.1" fill="#5e4394"/>
<circle cx="261.9" cy="619.2" r="2.1" fill="#d8a038"/>
<circle cx="185.8" cy="672.0" r="2.1" fill="#6590c0"/>
<circle cx="327.3" cy="439.7" r="2.1" fill="#5e4394"/>
<circle cx="221.3" cy="658.9" r="2.1" fill="#c44a70"/>
<circle cx="172.3" cy="707.3" r="2.1" fill="#2a5238"/>
<circle cx="218.1" cy="620.0" r="2.1" fill="#d8a038"/>
<circle cx="170.9" cy="633.0" r="2.1" fill="#2a5238"/>
<circle cx="361.2" cy="425.6" r="2.1" fill="#d8a038"/>
<circle cx="299.5" cy="566.7" r="2.1" fill="#5e4394"/>
<circle cx="271.6" cy="606.2" r="2.1" fill="#2a5238"/>
<circle cx="222.3" cy="592.0" r="2.1" fill="#5e4394"/>
<circle cx="185.9" cy="685.4" r="2.1" fill="#5e4394"/>
<circle cx="222.3" cy="566.2" r="2.1" fill="#2a5238"/>
<circle cx="302.0" cy="503.0" r="2.1" fill="#6590c0"/>
<circle cx="268.5" cy="645.0" r="2.1" fill="#c44a70"/>
<circle cx="247.4" cy="627.9" r="2.1" fill="#5e4394"/>
<circle cx="212.0" cy="663.6" r="2.1" fill="#5e4394"/>
<circle cx="322.5" cy="593.5" r="2.1" fill="#5e4394"/>
<circle cx="249.2" cy="587.3" r="2.1" fill="#6590c0"/>
<circle cx="204.3" cy="631.0" r="2.1" fill="#2a5238"/>
<circle cx="232.2" cy="635.1" r="2.1" fill="#d8a038"/>
<circle cx="368.8" cy="538.5" r="2.1" fill="#2a5238"/>
<circle cx="267.6" cy="593.9" r="2.1" fill="#5e4394"/>
<circle cx="352.1" cy="478.7" r="2.1" fill="#c44a70"/>
<circle cx="321.1" cy="507.0" r="2.1" fill="#2a5238"/>
<circle cx="218.1" cy="630.0" r="2.1" fill="#d8a038"/>
<circle cx="292.5" cy="581.8" r="2.1" fill="#2a5238"/>
<circle cx="368.5" cy="478.7" r="2.1" fill="#6590c0"/>
<circle cx="289.5" cy="595.9" r="2.1" fill="#5e4394"/>
<circle cx="233.6" cy="634.9" r="2.1" fill="#d8a038"/>
<circle cx="289.8" cy="583.4" r="2.1" fill="#2a5238"/>
<circle cx="171.4" cy="701.0" r="2.1" fill="#2a5238"/>
<circle cx="255.6" cy="579.8" r="2.1" fill="#2a5238"/>
<circle cx="211.2" cy="660.7" r="2.1" fill="#c44a70"/>
<circle cx="233.3" cy="596.0" r="2.1" fill="#d8a038"/>
<circle cx="316.4" cy="580.7" r="2.1" fill="#d8a038"/>
<circle cx="388.5" cy="455.2" r="2.1" fill="#2a5238"/>
<circle cx="247.8" cy="618.5" r="2.1" fill="#2a5238"/>
<circle cx="250.4" cy="624.1" r="2.1" fill="#5e4394"/>
<circle cx="309.7" cy="609.6" r="2.1" fill="#5e4394"/>
<circle cx="331.9" cy="533.0" r="2.1" fill="#5e4394"/>
<circle cx="227.6" cy="629.3" r="2.1" fill="#2a5238"/>
<circle cx="247.5" cy="576.9" r="2.1" fill="#5e4394"/>
<circle cx="211.7" cy="583.7" r="2.1" fill="#c44a70"/>
<circle cx="275.9" cy="587.0" r="2.1" fill="#c44a70"/>
<circle cx="323.6" cy="533.4" r="2.1" fill="#d8a038"/>
<circle cx="216.5" cy="630.9" r="2.1" fill="#d8a038"/>
<circle cx="283.1" cy="581.2" r="2.1" fill="#c44a70"/>
<circle cx="210.7" cy="607.6" r="2.1" fill="#6590c0"/>
<circle cx="167.7" cy="710.3" r="2.1" fill="#6590c0"/>
<circle cx="307.4" cy="555.5" r="2.1" fill="#2a5238"/>
<circle cx="276.2" cy="583.9" r="2.1" fill="#2a5238"/>
<circle cx="208.0" cy="642.6" r="2.1" fill="#6590c0"/>
<circle cx="289.5" cy="608.3" r="2.1" fill="#d8a038"/>
<circle cx="204.2" cy="647.9" r="2.1" fill="#c44a70"/>
<circle cx="235.3" cy="634.5" r="2.1" fill="#5e4394"/>
<circle cx="274.0" cy="615.3" r="2.1" fill="#d8a038"/>
<circle cx="237.3" cy="627.9" r="2.1" fill="#2a5238"/>
<circle cx="337.2" cy="425.6" r="2.1" fill="#2a5238"/>
<circle cx="296.8" cy="433.5" r="2.1" fill="#c44a70"/>
<circle cx="247.6" cy="614.2" r="2.1" fill="#6590c0"/>
<circle cx="306.5" cy="574.1" r="2.1" fill="#c44a70"/>
<circle cx="200.4" cy="640.3" r="2.1" fill="#2a5238"/>
<circle cx="213.6" cy="657.9" r="2.1" fill="#c44a70"/>
<circle cx="225.7" cy="649.4" r="2.1" fill="#d8a038"/>
<circle cx="278.4" cy="587.0" r="2.1" fill="#5e4394"/>
<circle cx="179.2" cy="707.0" r="2.1" fill="#c44a70"/>
<circle cx="203.4" cy="664.2" r="2.1" fill="#d8a038"/>
<circle cx="339.6" cy="518.7" r="2.1" fill="#c44a70"/>
<circle cx="234.2" cy="608.1" r="2.1" fill="#5e4394"/>
<circle cx="242.9" cy="608.1" r="2.1" fill="#d8a038"/>
<circle cx="286.8" cy="595.5" r="2.1" fill="#6590c0"/>
<circle cx="302.6" cy="507.0" r="2.1" fill="#c44a70"/>
<circle cx="186.8" cy="679.5" r="2.1" fill="#5e4394"/>
<circle cx="242.1" cy="657.0" r="2.1" fill="#5e4394"/>
<circle cx="193.3" cy="686.3" r="2.1" fill="#c44a70"/>
<circle cx="267.5" cy="542.5" r="2.1" fill="#2a5238"/>
<circle cx="295.2" cy="579.9" r="2.1" fill="#5e4394"/>
<circle cx="272.0" cy="623.1" r="2.1" fill="#c44a70"/>
<circle cx="203.5" cy="692.3" r="2.1" fill="#d8a038"/>
<circle cx="249.6" cy="619.4" r="2.1" fill="#c44a70"/>
<circle cx="254.2" cy="632.7" r="2.1" fill="#2a5238"/>
<circle cx="187.0" cy="667.4" r="2.1" fill="#c44a70"/>
<circle cx="284.0" cy="607.7" r="2.1" fill="#2a5238"/>
<circle cx="273.5" cy="582.2" r="2.1" fill="#d8a038"/>
<circle cx="203.5" cy="678.5" r="2.1" fill="#c44a70"/>
<circle cx="246.6" cy="625.7" r="2.1" fill="#6590c0"/>
<circle cx="267.7" cy="613.5" r="2.1" fill="#d8a038"/>
<circle cx="333.5" cy="593.9" r="2.1" fill="#d8a038"/>
<circle cx="304.7" cy="547.4" r="2.1" fill="#6590c0"/>
<circle cx="264.2" cy="601.2" r="2.1" fill="#c44a70"/>
<circle cx="331.2" cy="568.1" r="2.1" fill="#c44a70"/>
<circle cx="249.2" cy="608.7" r="2.1" fill="#d8a038"/>
<circle cx="244.6" cy="643.3" r="2.1" fill="#5e4394"/>
<circle cx="295.6" cy="575.3" r="2.1" fill="#d8a038"/>
<circle cx="253.8" cy="583.8" r="2.1" fill="#d8a038"/>
<circle cx="283.6" cy="586.7" r="2.1" fill="#2a5238"/>
<circle cx="266.2" cy="589.2" r="2.1" fill="#d8a038"/>
<circle cx="280.7" cy="591.4" r="2.1" fill="#c44a70"/>
<circle cx="197.6" cy="673.0" r="2.1" fill="#2a5238"/>
<circle cx="360.8" cy="455.2" r="2.1" fill="#c44a70"/>
<circle cx="200.8" cy="660.3" r="2.1" fill="#5e4394"/>
<circle cx="335.9" cy="532.4" r="2.1" fill="#c44a70"/>
<circle cx="252.2" cy="629.8" r="2.1" fill="#6590c0"/>
<circle cx="257.3" cy="645.0" r="2.1" fill="#5e4394"/>
<circle cx="172.3" cy="683.0" r="2.1" fill="#2a5238"/>
<circle cx="286.2" cy="542.5" r="2.1" fill="#6590c0"/>
<circle cx="198.7" cy="657.9" r="2.1" fill="#2a5238"/>
<circle cx="240.0" cy="663.0" r="2.1" fill="#5e4394"/>
<circle cx="213.8" cy="644.2" r="2.1" fill="#c44a70"/>
<circle cx="271.9" cy="504.7" r="2.1" fill="#5e4394"/>
<circle cx="242.9" cy="604.6" r="2.1" fill="#6590c0"/>
<circle cx="232.3" cy="618.7" r="2.1" fill="#c44a70"/>
<circle cx="246.6" cy="631.5" r="2.1" fill="#6590c0"/>
<circle cx="251.5" cy="604.0" r="2.1" fill="#d8a038"/>
<circle cx="322.8" cy="571.7" r="2.1" fill="#5e4394"/>
<circle cx="209.1" cy="651.7" r="2.1" fill="#d8a038"/>
<circle cx="278.0" cy="599.4" r="2.1" fill="#5e4394"/>
<circle cx="239.5" cy="667.0" r="2.1" fill="#d8a038"/>
<circle cx="234.2" cy="615.0" r="2.1" fill="#6590c0"/>
<circle cx="270.8" cy="570.0" r="2.1" fill="#d8a038"/>
<circle cx="298.0" cy="504.5" r="2.1" fill="#2a5238"/>
<circle cx="269.3" cy="610.3" r="2.1" fill="#5e4394"/>
<circle cx="215.2" cy="641.6" r="2.1" fill="#c44a70"/>
<circle cx="346.0" cy="425.6" r="2.1" fill="#c44a70"/>
<circle cx="206.7" cy="669.9" r="2.1" fill="#6590c0"/>
<circle cx="251.5" cy="609.5" r="2.1" fill="#d8a038"/>
<circle cx="304.3" cy="627.2" r="2.1" fill="#5e4394"/>
<circle cx="284.0" cy="633.2" r="2.1" fill="#6590c0"/>
<circle cx="276.7" cy="607.6" r="2.1" fill="#6590c0"/>
<circle cx="176.8" cy="649.0" r="2.1" fill="#2a5238"/>
<circle cx="210.9" cy="672.7" r="2.1" fill="#5e4394"/>
<circle cx="282.3" cy="504.7" r="2.1" fill="#6590c0"/>
<circle cx="372.0" cy="478.7" r="2.1" fill="#d8a038"/>
<circle cx="275.9" cy="586.6" r="2.1" fill="#c44a70"/>
<circle cx="302.9" cy="576.9" r="2.1" fill="#c44a70"/>
<circle cx="226.8" cy="635.9" r="2.1" fill="#2a5238"/>
<circle cx="289.5" cy="574.5" r="2.1" fill="#2a5238"/>
<circle cx="282.0" cy="563.0" r="2.1" fill="#2a5238"/>
<circle cx="257.1" cy="603.0" r="2.1" fill="#d8a038"/>
<circle cx="196.2" cy="655.5" r="2.1" fill="#d8a038"/>
<circle cx="264.8" cy="587.3" r="2.1" fill="#5e4394"/>
<circle cx="207.5" cy="692.3" r="2.1" fill="#c44a70"/>
<circle cx="210.4" cy="671.5" r="2.1" fill="#5e4394"/>
<circle cx="203.3" cy="666.2" r="2.1" fill="#d8a038"/>
<circle cx="224.4" cy="650.7" r="2.1" fill="#5e4394"/>
<circle cx="353.0" cy="530.7" r="2.1" fill="#5e4394"/>
<circle cx="216.0" cy="663.0" r="2.1" fill="#c44a70"/>
<circle cx="298.5" cy="433.5" r="2.1" fill="#d8a038"/>
<circle cx="261.0" cy="642.3" r="2.1" fill="#d8a038"/>
<circle cx="237.3" cy="658.8" r="2.1" fill="#5e4394"/>
<circle cx="197.7" cy="672.7" r="2.1" fill="#5e4394"/>
<circle cx="229.5" cy="692.3" r="2.1" fill="#c44a70"/>
<circle cx="242.1" cy="599.4" r="2.1" fill="#2a5238"/>
<circle cx="231.1" cy="641.1" r="2.1" fill="#2a5238"/>
<circle cx="177.4" cy="681.1" r="2.1" fill="#c44a70"/>
<circle cx="276.3" cy="644.7" r="2.1" fill="#5e4394"/>
<circle cx="292.2" cy="586.1" r="2.1" fill="#5e4394"/>
<circle cx="271.2" cy="588.1" r="2.1" fill="#d8a038"/>
<circle cx="327.4" cy="548.3" r="2.1" fill="#6590c0"/>
<circle cx="311.5" cy="545.8" r="2.1" fill="#2a5238"/>
<circle cx="236.8" cy="642.2" r="2.1" fill="#c44a70"/>
<circle cx="242.3" cy="616.5" r="2.1" fill="#5e4394"/>
<circle cx="224.3" cy="627.5" r="2.1" fill="#2a5238"/>
<circle cx="243.8" cy="663.7" r="2.1" fill="#5e4394"/>
<circle cx="283.8" cy="606.9" r="2.1" fill="#d8a038"/>
<circle cx="233.3" cy="583.7" r="2.1" fill="#c44a70"/>
<circle cx="211.3" cy="644.6" r="2.1" fill="#2a5238"/>
<circle cx="221.6" cy="638.4" r="2.1" fill="#2a5238"/>
<circle cx="337.4" cy="568.1" r="2.1" fill="#5e4394"/>
<circle cx="340.7" cy="439.7" r="2.1" fill="#d8a038"/>
<circle cx="256.7" cy="597.7" r="2.1" fill="#5e4394"/>
<circle cx="169.6" cy="691.5" r="2.1" fill="#c44a70"/>
<circle cx="273.5" cy="613.5" r="2.1" fill="#5e4394"/>
<circle cx="224.9" cy="629.8" r="2.1" fill="#c44a70"/>
<circle cx="298.9" cy="587.4" r="2.1" fill="#d8a038"/>
<circle cx="230.5" cy="633.4" r="2.1" fill="#c44a70"/>
<circle cx="342.7" cy="577.5" r="2.1" fill="#c44a70"/>
<circle cx="272.0" cy="613.6" r="2.1" fill="#5e4394"/>
<circle cx="235.7" cy="643.5" r="2.1" fill="#d8a038"/>
<circle cx="198.5" cy="692.3" r="2.1" fill="#6590c0"/>
<circle cx="233.6" cy="637.5" r="2.1" fill="#2a5238"/>
<circle cx="295.0" cy="565.8" r="2.1" fill="#2a5238"/>
<circle cx="232.0" cy="649.3" r="2.1" fill="#2a5238"/>
<circle cx="330.8" cy="439.7" r="2.1" fill="#6590c0"/>
<circle cx="316.2" cy="507.0" r="2.1" fill="#6590c0"/>
<circle cx="199.5" cy="607.6" r="2.1" fill="#2a5238"/>
<circle cx="291.5" cy="682.3" r="2.1" fill="#c44a70"/>
<circle cx="355.0" cy="425.6" r="2.1" fill="#6590c0"/>
<circle cx="303.2" cy="570.7" r="2.1" fill="#c44a70"/>
<circle cx="311.2" cy="507.0" r="2.1" fill="#5e4394"/>
<circle cx="328.0" cy="547.1" r="2.1" fill="#2a5238"/>
<circle cx="337.1" cy="655.0" r="2.1" fill="#5e4394"/>
<circle cx="284.8" cy="682.3" r="2.1" fill="#6590c0"/>
<circle cx="254.4" cy="587.9" r="2.1" fill="#d8a038"/>
<circle cx="266.5" cy="576.3" r="2.1" fill="#d8a038"/>
<circle cx="349.6" cy="548.5" r="2.1" fill="#5e4394"/>
<circle cx="270.6" cy="575.2" r="2.1" fill="#2a5238"/>
<circle cx="249.1" cy="613.8" r="2.1" fill="#6590c0"/>
<circle cx="219.2" cy="636.9" r="2.1" fill="#6590c0"/>
<circle cx="211.9" cy="641.5" r="2.1" fill="#d8a038"/>
<circle cx="294.8" cy="682.3" r="2.1" fill="#d8a038"/>
<circle cx="285.8" cy="632.9" r="2.1" fill="#6590c0"/>
<circle cx="171.2" cy="712.0" r="2.1" fill="#d8a038"/>
<circle cx="318.2" cy="593.5" r="2.1" fill="#c44a70"/>
<circle cx="256.2" cy="624.2" r="2.1" fill="#2a5238"/>
<circle cx="264.0" cy="632.9" r="2.1" fill="#5e4394"/>
<circle cx="228.0" cy="627.5" r="2.1" fill="#6590c0"/>
<circle cx="226.5" cy="664.5" r="2.1" fill="#6590c0"/>
<circle cx="239.0" cy="566.0" r="2.1" fill="#d8a038"/>
<circle cx="263.0" cy="710.5" r="2.1" fill="#5e4394"/>
<circle cx="226.0" cy="631.3" r="2.1" fill="#5e4394"/>
<circle cx="275.4" cy="615.9" r="2.1" fill="#d8a038"/>
<circle cx="328.5" cy="609.6" r="2.1" fill="#d8a038"/>
<circle cx="330.0" cy="592.0" r="2.1" fill="#2a5238"/>
<circle cx="201.9" cy="665.3" r="2.1" fill="#2a5238"/>
<circle cx="308.6" cy="567.9" r="2.1" fill="#5e4394"/>
<circle cx="232.6" cy="624.0" r="2.1" fill="#c44a70"/>
<circle cx="357.0" cy="548.5" r="2.1" fill="#5e4394"/>
<circle cx="302.9" cy="551.5" r="2.1" fill="#5e4394"/>
<circle cx="299.0" cy="566.8" r="2.1" fill="#2a5238"/>
<circle cx="311.8" cy="552.2" r="2.1" fill="#5e4394"/>
<circle cx="256.9" cy="616.1" r="2.1" fill="#6590c0"/>
<circle cx="257.3" cy="585.6" r="2.1" fill="#2a5238"/>
<circle cx="256.0" cy="554.6" r="2.1" fill="#6590c0"/>
<circle cx="272.2" cy="586.2" r="2.1" fill="#d8a038"/>
<circle cx="337.6" cy="654.6" r="2.1" fill="#5e4394"/>
<circle cx="310.4" cy="568.3" r="2.1" fill="#5e4394"/>
<circle cx="200.0" cy="667.9" r="2.1" fill="#5e4394"/>
<circle cx="224.0" cy="619.0" r="2.1" fill="#2a5238"/>
<circle cx="265.4" cy="580.4" r="2.1" fill="#5e4394"/>
<circle cx="348.7" cy="523.7" r="2.1" fill="#6590c0"/>
<circle cx="271.8" cy="606.0" r="2.1" fill="#d8a038"/>
<circle cx="257.0" cy="710.5" r="2.1" fill="#6590c0"/>
<circle cx="251.2" cy="649.2" r="2.1" fill="#c44a70"/>
<circle cx="264.4" cy="601.2" r="2.1" fill="#6590c0"/>
<circle cx="332.8" cy="543.6" r="2.1" fill="#d8a038"/>
<circle cx="240.3" cy="614.9" r="2.1" fill="#6590c0"/>
<circle cx="220.5" cy="662.2" r="2.1" fill="#5e4394"/>
<circle cx="258.1" cy="633.2" r="2.1" fill="#5e4394"/>
<circle cx="233.3" cy="606.0" r="2.1" fill="#5e4394"/>
<circle cx="365.4" cy="455.2" r="2.1" fill="#5e4394"/>
<circle cx="217.2" cy="642.2" r="2.1" fill="#2a5238"/>
<circle cx="205.7" cy="663.9" r="2.1" fill="#2a5238"/>
<circle cx="330.0" cy="609.0" r="2.1" fill="#d8a038"/>
<circle cx="286.8" cy="587.3" r="2.1" fill="#2a5238"/>
<circle cx="237.7" cy="691.0" r="2.1" fill="#5e4394"/>
</g>
<polygon points="153.1,671.9 163.0,664.8 172.9,657.8 182.7,650.7 192.6,643.6 202.4,636.5 212.3,629.3 222.1,622.1 232.0,614.8 241.9,607.3 251.7,599.7 261.6,591.9 271.4,583.9 281.3,575.6 291.1,567.2 301.0,558.5 310.9,549.7 320.7,540.9 330.6,531.9 340.4,522.9 350.3,513.9 360.1,504.8 370.0,495.7 379.9,486.6 389.7,477.5 389.7,507.5 379.9,514.5 370.0,521.6 360.1,528.6 350.3,535.7 340.4,542.8 330.6,550.0 320.7,557.2 310.9,564.4 301.0,571.8 291.1,579.3 281.3,587.0 271.4,594.9 261.6,603.0 251.7,611.4 241.9,619.9 232.0,628.6 222.1,637.4 212.3,646.3 202.4,655.3 192.6,664.3 182.7,673.4 172.9,682.4 163.0,691.5 153.1,700.6" fill="#b4c8b4" fill-opacity="0.38"/>
<polygon points="165.2,680.8 174.3,672.8 183.3,664.8 192.3,656.8 201.4,648.8 210.4,640.8 219.5,632.7 228.5,624.5 237.6,616.3 246.6,607.9 255.6,599.3 264.7,590.5 273.7,581.5 282.8,572.1 291.8,562.6 300.9,552.8 309.9,543.0 319.0,533.0 328.0,523.0 337.0,513.0 346.1,502.9 355.1,492.8 364.2,482.7 373.2,472.6 382.3,462.5 382.3,492.5 373.2,500.4 364.2,508.4 355.1,516.4 346.1,524.4 337.0,532.4 328.0,540.5 319.0,548.6 309.9,556.7 300.9,565.0 291.8,573.3 282.8,581.8 273.7,590.6 264.7,599.6 255.6,608.9 246.6,618.4 237.6,628.2 228.5,638.0 219.5,647.9 210.4,657.9 201.4,668.0 192.3,678.0 183.3,688.1 174.3,698.2 165.2,708.3" fill="#9cc3e8" fill-opacity="0.42"/>
<polygon points="165.2,684.8 174.3,676.9 183.4,669.0 192.5,661.1 201.6,653.1 210.7,645.2 219.8,637.1 228.8,629.0 237.9,620.9 247.0,612.6 256.1,604.1 265.2,595.5 274.3,586.6 283.4,577.6 292.5,568.3 301.6,558.9 310.7,549.4 319.8,539.9 328.9,530.2 337.9,520.6 347.0,510.8 356.1,501.1 365.2,491.3 374.3,481.6 383.4,471.8 383.4,499.8 374.3,507.6 365.2,515.5 356.1,523.4 347.0,531.3 337.9,539.3 328.9,547.2 319.8,555.2 310.7,563.3 301.6,571.5 292.5,579.7 283.4,588.1 274.3,596.7 265.2,605.5 256.1,614.5 247.0,623.7 237.9,633.1 228.8,642.5 219.8,652.1 210.7,661.7 201.6,671.4 192.5,681.1 183.4,690.8 174.3,700.6 165.2,710.3" fill="#ecbc84" fill-opacity="0.5"/>
<polygon points="166.2,689.0 174.9,681.4 183.6,673.9 192.4,666.2 201.1,658.6 209.8,651.0 218.6,643.3 227.3,635.5 236.0,627.7 244.8,619.8 253.5,611.8 262.2,603.5 271.0,595.1 279.7,586.4 288.4,577.6 297.2,568.5 305.9,559.4 314.6,550.2 323.4,540.9 332.1,531.6 340.8,522.3 349.6,512.9 358.3,503.5 367.0,494.1 375.7,484.7 375.7,510.7 367.0,518.2 358.3,525.8 349.6,533.4 340.8,541.0 332.1,548.6 323.4,556.3 314.6,564.0 305.9,571.8 297.2,579.7 288.4,587.6 279.7,595.8 271.0,604.1 262.2,612.6 253.5,621.4 244.8,630.3 236.0,639.4 227.3,648.6 218.6,657.8 209.8,667.1 201.1,676.4 192.4,685.8 183.6,695.2 174.9,704.6 166.2,714.0" fill="#eeaac0" fill-opacity="0.36"/>
<polygon points="165.2,692.5 173.6,685.3 182.0,678.2 190.3,671.1 198.7,663.9 207.1,656.7 215.5,649.5 223.8,642.2 232.2,634.9 240.6,627.5 248.9,620.0 257.3,612.3 265.7,604.5 274.1,596.4 282.4,588.1 290.8,579.7 299.2,571.1 307.6,562.3 315.9,553.6 324.3,544.7 332.7,535.9 341.1,527.0 349.4,518.0 357.8,509.1 366.2,500.1 366.2,524.9 357.8,532.0 349.4,539.1 341.1,546.3 332.7,553.5 324.3,560.7 315.9,567.9 307.6,575.2 299.2,582.6 290.8,590.1 282.4,597.7 274.1,605.5 265.7,613.5 257.3,621.7 248.9,630.1 240.6,638.7 232.2,647.4 223.8,656.1 215.5,664.9 207.1,673.8 198.7,682.7 190.3,691.6 182.0,700.5 173.6,709.5 165.2,718.5" fill="#c2b2e6" fill-opacity="0.38"/>
<line x1="153.1" y1="686.3" x2="389.7" y2="492.5" stroke="#2c6a3c" stroke-width="1.3" stroke-opacity="1"/>
<line x1="165.2" y1="705.5" x2="366.2" y2="512.5" stroke="#8a6ab8" stroke-width="1.1" stroke-opacity="0.85"/>
<line x1="166.2" y1="701.5" x2="375.7" y2="497.7" stroke="#d87a98" stroke-width="1.1" stroke-opacity="0.85"/>
<line x1="165.2" y1="694.6" x2="382.3" y2="477.5" stroke="#8aa8c8" stroke-width="1.1" stroke-opacity="0.85"/>
<line x1="165.2" y1="697.5" x2="383.4" y2="485.8" stroke="#e69a3a" stroke-width="1.1" stroke-opacity="0.85"/>
<line x1="123.1" y1="757.9" x2="448.5" y2="421.5" stroke="#111" stroke-width="2" stroke-dasharray="6.3 7.7"/>
<rect x="123.1" y="421.5" width="325.5" height="336.4" fill="none" stroke="#555" stroke-width="1.3"/>
<line x1="123.1" y1="757.9" x2="123.1" y2="766.9" stroke="#333" stroke-width="1.3"/>
<text x="122.1" y="788.1" font-size="13.4" text-anchor="middle" fill="#1a1a1a" class="pt" transform="translate(0,-26.80) scale(1,1.034)">0</text>
<line x1="114.6" y1="757.9" x2="123.1" y2="757.9" stroke="#333" stroke-width="1.3"/>
<text x="106.2" y="762.6" font-size="13.4" text-anchor="end" fill="#1a1a1a" class="pt" transform="translate(0,-25.93) scale(1,1.034)">0</text>
<line x1="218.8" y1="757.9" x2="218.8" y2="766.9" stroke="#333" stroke-width="1.3"/>
<text x="217.8" y="788.1" font-size="13.4" text-anchor="middle" fill="#1a1a1a" class="pt" transform="translate(0,-26.80) scale(1,1.034)">50</text>
<line x1="114.6" y1="658.95" x2="123.1" y2="658.95" stroke="#333" stroke-width="1.3"/>
<text x="106.2" y="663.65" font-size="13.4" text-anchor="end" fill="#1a1a1a" class="pt" transform="translate(0,-22.56) scale(1,1.034)">50</text>
<line x1="314.5" y1="757.9" x2="314.5" y2="766.9" stroke="#333" stroke-width="1.3"/>
<text x="313.5" y="788.1" font-size="13.4" text-anchor="middle" fill="#1a1a1a" class="pt" transform="translate(0,-26.80) scale(1,1.034)">100</text>
<line x1="114.6" y1="560.0" x2="123.1" y2="560.0" stroke="#333" stroke-width="1.3"/>
<text x="106.2" y="564.7" font-size="13.4" text-anchor="end" fill="#1a1a1a" class="pt" transform="translate(0,-19.20) scale(1,1.034)">100</text>
<line x1="410.2" y1="757.9" x2="410.2" y2="766.9" stroke="#333" stroke-width="1.3"/>
<text x="409.2" y="788.1" font-size="13.4" text-anchor="middle" fill="#1a1a1a" class="pt" transform="translate(0,-26.80) scale(1,1.034)">150</text>
<line x1="114.6" y1="461.05" x2="123.1" y2="461.05" stroke="#333" stroke-width="1.3"/>
<text x="106.2" y="465.75" font-size="13.4" text-anchor="end" fill="#1a1a1a" class="pt" transform="translate(0,-15.84) scale(1,1.034)">150</text>
<text x="172.2" y="816.1" font-size="13.55" fill="#1a1a1a" class="pt" transform="translate(0,-27.75) scale(1,1.034)">Estimated GFR (ml/min/1.73m<tspan font-size="9.2" dy="-5.2">2</tspan><tspan dy="5.2">)</tspan></text>
<text transform="translate(70.6,687.3) rotate(-90) scale(1.05,1)" font-size="13.4" fill="#1a1a1a" class="pt">Measured GFR (ml/min/1.73m<tspan font-size="9.2" dy="-5.2">2</tspan><tspan dy="5.2">)</tspan></text>
<rect x="295.7" y="682.3" width="152.9" height="75.6" fill="#fff" stroke="#222" stroke-width="1.2"/>
<line x1="298.5" y1="694.9" x2="317.4" y2="694.9" stroke="#d87a98" stroke-width="1.4"/>
<circle cx="307.7" cy="694.9" r="2.4" fill="#c44a70"/>
<text x="326.2" y="698.5" font-size="10.1" fill="#1a1a1a" class="pl">CKD&#8722;EPI 2009 SCr</text>
<line x1="298.5" y1="707.52" x2="317.4" y2="707.52" stroke="#2c6a3c" stroke-width="1.4"/>
<circle cx="307.7" cy="707.52" r="2.4" fill="#2a5238"/>
<text x="326.2" y="711.12" font-size="10.1" fill="#1a1a1a" class="pl">CKD&#8722;EPI 2012 cysC</text>
<line x1="298.5" y1="720.14" x2="317.4" y2="720.14" stroke="#8aa8c8" stroke-width="1.4"/>
<circle cx="307.7" cy="720.14" r="2.4" fill="#6590c0"/>
<text x="326.2" y="723.74" font-size="10.1" fill="#1a1a1a" class="pl">CKD&#8722;EPI 2012 cysC+SCr</text>
<line x1="298.5" y1="732.76" x2="317.4" y2="732.76" stroke="#8a6ab8" stroke-width="1.4"/>
<circle cx="307.7" cy="732.76" r="2.4" fill="#5e4394"/>
<text x="326.2" y="736.36" font-size="10.1" fill="#1a1a1a" class="pl">CKD&#8722;EPI 2021 SCr</text>
<line x1="298.5" y1="745.38" x2="317.4" y2="745.38" stroke="#e69a3a" stroke-width="1.4"/>
<circle cx="307.7" cy="745.38" r="2.4" fill="#d8a038"/>
<text x="326.2" y="748.98" font-size="10.1" fill="#1a1a1a" class="pl">CKD&#8722;EPI 2021 cysC+SCr</text>
</svg></body></html>
